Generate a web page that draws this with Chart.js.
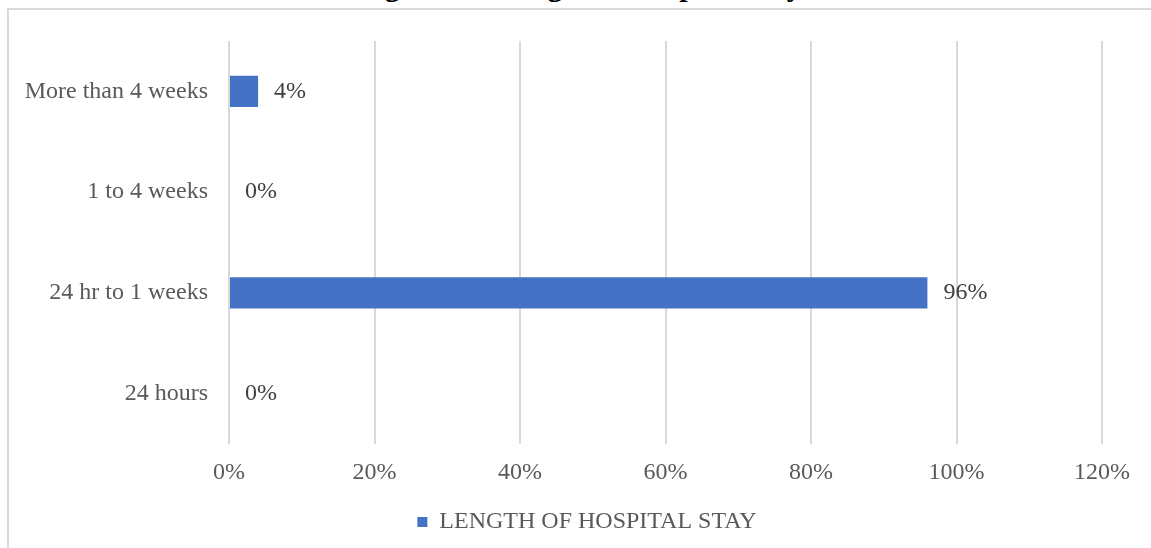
<!DOCTYPE html>
<html>
<head>
<meta charset="utf-8">
<script src="https://cdn.jsdelivr.net/npm/chart.js@4.4.1/dist/chart.umd.min.js"></script>
<style>
  html, body { margin: 0; padding: 0; background: #ffffff; overflow: hidden; }
  body { width: 1151px; height: 548px; position: relative; }
  #title {
    position: absolute; left: 0; width: 1160px; top: -29px;
    font: bold 30px "Liberation Serif", "Times New Roman", serif;
    line-height: 30px; text-align: center; color: #000;
    white-space: nowrap;
  }
  #frame {
    position: absolute; left: 7px; top: 8px;
    width: 1170px; height: 560px;
    border-top: 2px solid #dadada; border-left: 2px solid #dadada;
  }
  #chart { position: absolute; left: 0; top: 0; }
</style>
</head>
<body>
<div id="title">Figure 14: Length of Hospital Stay</div>
<div id="frame"><canvas id="chart" width="1156" height="538"></canvas></div>
<script>
// ===== Data =====
const categories = ["More than 4 weeks", "1 to 4 weeks", "24 hr to 1 weeks", "24 hours"];
const stayValues = [4, 0, 96, 0];
const seriesName = "LENGTH OF HOSPITAL STAY";
const xTicks = [0, 20, 40, 60, 80, 100, 120];

const FONT = '"Liberation Serif", "Times New Roman", serif';
const TEXT = "#595959";

// value labels at the end of each bar
const barLabels = {
  id: "barLabels",
  afterDatasetsDraw(chart) {
    const ctx = chart.ctx;
    const meta = chart.getDatasetMeta(0);
    ctx.save();
    ctx.font = "24px " + FONT;
    ctx.fillStyle = "#404040";
    ctx.textAlign = "left";
    ctx.textBaseline = "middle";
    meta.data.forEach((bar, i) => {
      ctx.fillText(stayValues[i] + "%", bar.x + 16, bar.y);
    });
    ctx.restore();
  },
};

// centre the legend on the whole frame, not on the padded area
const legendCentre = {
  id: "legendCentre",
  beforeDraw(chart) {
    const lg = chart.legend;
    if (!lg) return;
    lg.right = chart.width;
    lg.width = lg.right - lg.left;
  },
};

new Chart(document.getElementById("chart").getContext("2d"), {
  type: "bar",
  data: {
    labels: categories,
    datasets: [
      {
        label: seriesName,
        data: stayValues,
        backgroundColor: "#4472C4",
        borderWidth: 0,
        categoryPercentage: 1,
        barPercentage: 0.31,
      },
    ],
  },
  options: {
    indexAxis: "y",
    responsive: false,
    animation: false,
    layout: { padding: { top: 31, right: 63, bottom: 4, left: 0 } },
    plugins: {
      legend: {
        position: "bottom",
        labels: {
          boxWidth: 10,
          boxHeight: 10,
          padding: 10,
          color: TEXT,
          font: { family: FONT, size: 24 },
        },
      },
      tooltip: { enabled: false },
    },
    scales: {
      x: {
        min: xTicks[0],
        max: xTicks[xTicks.length - 1],
        ticks: {
          stepSize: 20,
          padding: 14,
          color: TEXT,
          font: { family: FONT, size: 24 },
          callback: (v) => v + "%",
        },
        grid: { color: "#d9d9d9", lineWidth: 2, drawTicks: false },
        border: { display: false },
        afterFit: (s) => { s.height = 56; },
      },
      y: {
        ticks: {
          padding: 21,
          color: TEXT,
          font: { family: FONT, size: 24 },
        },
        grid: { display: false, drawTicks: false },
        border: { display: false },
        afterFit: (s) => {
          s.width = 220;
          s.paddingTop = 0;
          s.paddingBottom = 0;
        },
      },
    },
  },
  plugins: [barLabels, legendCentre],
});
</script>
</body>
</html>
